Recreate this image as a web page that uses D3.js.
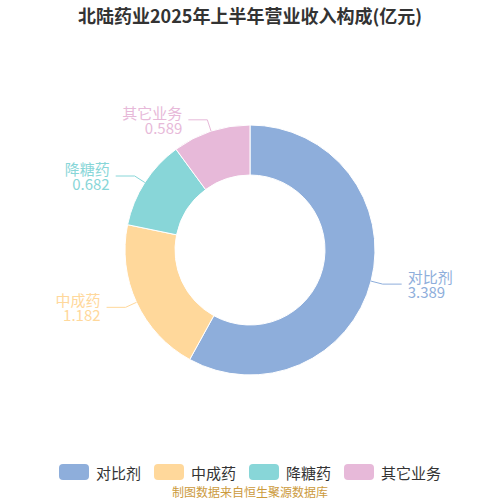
<!DOCTYPE html>
<html>
<head>
<meta charset="utf-8">
<script src="https://cdn.jsdelivr.net/npm/d3@7"></script>
<style>
  body { margin: 0; background: #fff; }
  svg { font-family: "Noto Sans CJK SC", "Noto Sans", sans-serif; }
</style>
</head>
<body>
<div id="chart"></div>
<script>
// Dados do gráfico
const categories = ["对比剂", "中成药", "降糖药", "其它业务"];
const values = [3.389, 1.182, 0.682, 0.589];
const colors = ["#8eaedb", "#ffd89b", "#88d6d8", "#e7b9d9"];
const title = "北陆药业2025年上半年营业收入构成(亿元)";
const source = "制图数据来自恒生聚源数据库";

const width = 500, height = 500;
const cx = 250, cy = 250;
const outerR = 125, innerR = 75;

const svg = d3.select("#chart")
    .append("svg")
    .attr("width", width)
    .attr("height", height);

// Título
svg.append("text")
    .attr("x", width / 2)
    .attr("y", 15)
    .attr("text-anchor", "middle")
    .attr("dominant-baseline", "central")
    .style("font-size", "18px")
    .style("font-weight", "bold")
    .attr("fill", "#333")
    .text(title);

const data = categories.map((c, i) => ({ name: c, value: values[i], color: colors[i] }));

const pie = d3.pie()
    .value(d => d.value)
    .sort(null);

const arc = d3.arc()
    .innerRadius(innerR)
    .outerRadius(outerR);

const arcs = pie(data);

const g = svg.append("g")
    .attr("transform", `translate(${cx},${cy})`);

// Fatias
g.selectAll("path")
    .data(arcs)
    .enter()
    .append("path")
    .attr("d", arc)
    .attr("fill", d => d.data.color)
    .attr("stroke", "#fff")
    .attr("stroke-width", 1);

// Linhas e rótulos (nome em cima, valor em baixo)
const len1 = 12, len2 = 19, gap = 6;
arcs.forEach(d => {
    const mid = (d.startAngle + d.endAngle) / 2;
    const sx = Math.sin(mid), sy = -Math.cos(mid);
    const p0 = [sx * outerR, sy * outerR];
    const p1 = [sx * (outerR + len1), sy * (outerR + len1)];
    const right = sx >= 0;
    const p2 = [p1[0] + (right ? len2 : -len2), p1[1]];

    g.append("polyline")
        .attr("points", [p0, p1, p2].map(p => p.join(",")).join(" "))
        .attr("fill", "none")
        .attr("stroke", d.data.color)
        .attr("stroke-width", 1);

    const tx = p2[0] + (right ? gap : -gap);
    [d.data.name, d.data.value.toFixed(3)].forEach((t, i) => {
        g.append("text")
            .attr("x", tx)
            .attr("y", p2[1] + (i === 0 ? -7.5 : 7.5))
            .attr("text-anchor", right ? "start" : "end")
            .attr("dominant-baseline", "central")
            .attr("fill", d.data.color)
            .style("font-size", "15px")
            .text(t);
    });
});

// Legenda
const legendX = d3.scaleOrdinal()
    .domain(categories)
    .range([59, 154, 249, 344]);

const legend = svg.append("g")
    .attr("class", "legend");

const items = legend.selectAll("g")
    .data(data)
    .enter()
    .append("g")
    .attr("transform", d => `translate(${legendX(d.name)},472)`);

items.append("rect")
    .attr("x", 0)
    .attr("y", -8)
    .attr("width", 30)
    .attr("height", 16)
    .attr("rx", 4)
    .attr("fill", d => d.color);

items.append("text")
    .attr("x", 37)
    .attr("y", 0)
    .attr("dominant-baseline", "central")
    .style("font-size", "15px")
    .attr("fill", "#333")
    .text(d => d.name);

// Fonte
svg.append("text")
    .attr("x", width / 2)
    .attr("y", 491)
    .attr("text-anchor", "middle")
    .attr("dominant-baseline", "central")
    .style("font-size", "12px")
    .attr("fill", "#cc9a3c")
    .text(source);
</script>
</body>
</html>
